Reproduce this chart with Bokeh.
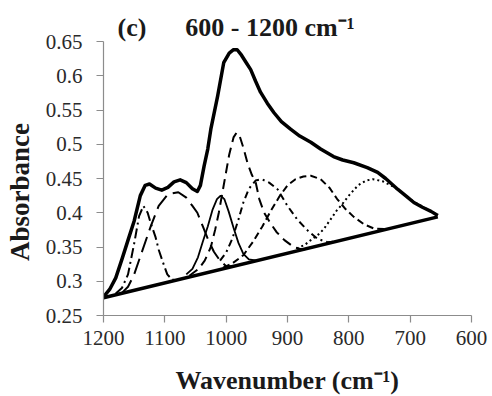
from bokeh.plotting import figure
from bokeh.models import Range1d, FixedTicker
from bokeh.embed import file_html
from bokeh.resources import INLINE

# ---- data ----
main_x = [1200, 1190, 1180, 1170, 1160, 1150, 1140, 1132, 1125, 1115, 1105, 1095, 1085, 1075,
          1065, 1055, 1047, 1042, 1036, 1030, 1025, 1014, 1004, 995, 988, 982, 975, 968, 960,
          952, 944, 933, 922, 910, 895, 880, 862, 846, 825, 810, 792, 770, 753, 740, 720, 706,
          694, 680, 666, 655]
main_y = [0.277, 0.288, 0.305, 0.332, 0.360, 0.388, 0.425, 0.440, 0.442, 0.436, 0.433, 0.437,
          0.445, 0.448, 0.444, 0.435, 0.431, 0.440, 0.468, 0.493, 0.522, 0.570, 0.619, 0.633,
          0.638, 0.638, 0.630, 0.620, 0.609, 0.592, 0.576, 0.560, 0.546, 0.533, 0.522, 0.512,
          0.503, 0.493, 0.482, 0.477, 0.473, 0.466, 0.459, 0.450, 0.434, 0.424, 0.415, 0.408,
          0.402, 0.396]

base_x = [1200, 655]
base_y = [0.276, 0.394]

# component near 1135 (long dash-dot)
a_x = [1180, 1170, 1160, 1150, 1142, 1135, 1128, 1123, 1115, 1110, 1104, 1096, 1088, 1075]
a_y = [0.282, 0.290, 0.310, 0.355, 0.395, 0.410, 0.400, 0.385, 0.364, 0.346, 0.330, 0.310,
       0.302, 0.303]

# component near 1078 (long dash)
b_x = [1170, 1160, 1150, 1140, 1130, 1123, 1110, 1095, 1078, 1065, 1055, 1047, 1038, 1030,
       1020, 1010, 1000, 990]
b_y = [0.283, 0.292, 0.310, 0.336, 0.362, 0.380, 0.410, 0.427, 0.430, 0.422, 0.410, 0.400,
       0.380, 0.362, 0.343, 0.330, 0.322, 0.322]

# component near 1009 (thin solid)
c_x = [1065, 1055, 1046, 1038, 1030, 1022, 1015, 1009, 1003, 996, 988, 980, 972, 963, 950]
c_y = [0.310, 0.318, 0.335, 0.358, 0.380, 0.405, 0.420, 0.425, 0.420, 0.402, 0.378, 0.356,
       0.340, 0.332, 0.330]

# component near 983 (dash)
d_x = [1060, 1045, 1035, 1025, 1018, 1012, 1006, 1001, 995, 988, 983, 978, 972, 965, 958,
       952, 946, 938, 928, 918, 905, 890, 875, 860]
d_y = [0.308, 0.318, 0.330, 0.350, 0.375, 0.400, 0.430, 0.455, 0.485, 0.510, 0.517, 0.512,
       0.495, 0.472, 0.455, 0.445, 0.420, 0.400, 0.385, 0.372, 0.360, 0.350, 0.346, 0.349]

# component near 942 (dash-dot)
e_x = [1010, 1000, 990, 980, 972, 963, 952, 942, 930, 916, 900, 884, 867, 851, 835, 820]
e_y = [0.330, 0.342, 0.362, 0.390, 0.415, 0.435, 0.447, 0.449, 0.444, 0.434, 0.410, 0.390,
       0.374, 0.362, 0.357, 0.358]

# component near 862 (short dash)
f_x = [1005, 990, 972, 956, 941, 927, 913, 900, 887, 874, 862, 846, 832, 819, 805, 792, 775,
       759, 740]
f_y = [0.320, 0.326, 0.338, 0.358, 0.380, 0.403, 0.424, 0.440, 0.449, 0.453, 0.454, 0.449,
       0.437, 0.420, 0.405, 0.394, 0.383, 0.377, 0.376]

# component near 761 (dotted)
g_x = [885, 872, 862, 850, 841, 830, 820, 813, 800, 785, 772, 761, 745, 727, 710, 694, 680,
       666, 655]
g_y = [0.348, 0.353, 0.360, 0.368, 0.376, 0.390, 0.403, 0.410, 0.425, 0.440, 0.447, 0.449,
       0.446, 0.438, 0.427, 0.416, 0.409, 0.402, 0.397]

x_ticks = [1200, 1100, 1000, 900, 800, 700, 600]
y_ticks = [0.25, 0.3, 0.35, 0.4, 0.45, 0.5, 0.55, 0.6, 0.65]
y_tick_labels = ["0.25", "0.3", "0.35", "0.4", "0.45", "0.5", "0.55", "0.6", "0.65"]

NB = "\u00a0"
title_text = "(c)" + NB * 6 + "600 - 1200 cm\u207b\u00b9"
x_label = "Wavenumber (cm\u207b\u00b9)"
y_label = "Absorbance" + NB * 4

SERIF = "Liberation Serif"

# ---- figure ----
p = figure(output_backend="svg", toolbar_location=None,
           frame_width=368, frame_height=274,
           x_range=Range1d(1200, 600), y_range=Range1d(0.25, 0.65),
           min_border_left=103, min_border_right=21, min_border_top=41, min_border_bottom=81)
p.outline_line_color = None
p.xgrid.visible = False
p.ygrid.visible = False

p.title.text = title_text
p.title.align = "left"
p.title.offset = 14
p.title.standoff = 0
p.title.text_font = SERIF
p.title.text_font_style = "bold"
p.title.text_font_size = "26px"
p.title.text_color = "#1a1a1a"

axis_col = "#8c8c8c"
for ax in (p.xaxis[0], p.yaxis[0]):
    ax.axis_line_color = axis_col
    ax.axis_line_width = 1.2
    ax.major_tick_line_color = axis_col
    ax.major_tick_line_width = 1.2
    ax.major_tick_out = 7
    ax.major_tick_in = 0
    ax.minor_tick_line_color = None
    ax.major_label_text_font = SERIF
    ax.major_label_text_font_size = "21px"
    ax.major_label_text_color = "#2a2a2a"
    ax.axis_label_text_font = SERIF
    ax.axis_label_text_font_style = "bold"
    ax.axis_label_text_color = "#1a1a1a"

p.xaxis.ticker = FixedTicker(ticks=x_ticks)
p.yaxis.ticker = FixedTicker(ticks=y_ticks)
p.yaxis.major_label_overrides = {v: s for v, s in zip(y_ticks, y_tick_labels)}
p.xaxis.major_label_standoff = 8
p.yaxis.major_label_standoff = 14

p.xaxis.axis_label = x_label
p.xaxis.axis_label_text_font_size = "26px"
p.xaxis.axis_label_standoff = 18
p.yaxis.axis_label = y_label
p.yaxis.axis_label_text_font_size = "27px"
p.yaxis.axis_label_standoff = 8

# components
p.line(a_x, a_y, line_color="black", line_width=2, line_dash="10 4 2 4")
p.line(b_x, b_y, line_color="black", line_width=2, line_dash="16 7")
p.line(c_x, c_y, line_color="black", line_width=1.8)
p.line(d_x, d_y, line_color="black", line_width=2, line_dash="10 6")
p.line(e_x, e_y, line_color="black", line_width=2, line_dash="7 4 2 4")
p.line(f_x, f_y, line_color="black", line_width=2, line_dash="7 4")
p.line(g_x, g_y, line_color="black", line_width=2, line_dash="2 3")
# baseline and total
p.line(base_x, base_y, line_color="black", line_width=3.5)
p.line(main_x, main_y, line_color="black", line_width=3.5, line_join="round")

open("out.html", "w").write(file_html(p, INLINE))
